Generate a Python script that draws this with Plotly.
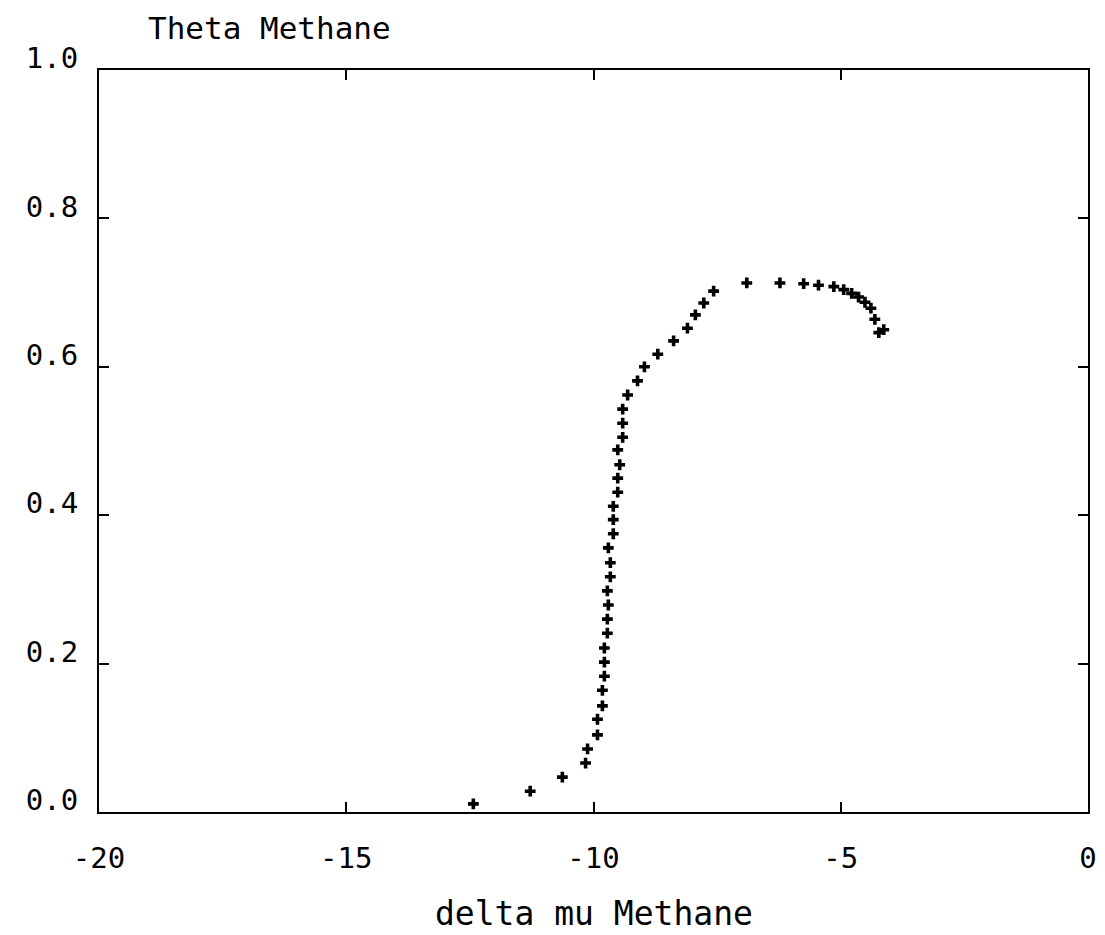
import plotly.graph_objects as go

delta_mu = [-12.43, -11.28, -10.63, -10.16, -10.12, -9.92, -9.92, -9.82, -9.82, -9.78,
            -9.78, -9.78, -9.72, -9.72, -9.70, -9.72, -9.66, -9.66, -9.70, -9.60,
            -9.60, -9.60, -9.51, -9.51, -9.47, -9.51, -9.41, -9.41, -9.41, -9.31,
            -9.11, -8.97, -8.70, -8.38, -8.10, -7.94, -7.77, -7.57, -6.90, -6.23,
            -5.75, -5.45, -5.14, -4.94, -4.78, -4.64, -4.51, -4.39, -4.31, -4.23,
            -4.13]
theta = [0.011, 0.028, 0.047, 0.066, 0.085, 0.104, 0.125, 0.143, 0.164, 0.183,
         0.202, 0.221, 0.241, 0.260, 0.279, 0.298, 0.317, 0.336, 0.356, 0.375,
         0.394, 0.412, 0.431, 0.450, 0.468, 0.488, 0.505, 0.524, 0.543, 0.562,
         0.581, 0.600, 0.617, 0.635, 0.652, 0.670, 0.686, 0.702, 0.713, 0.713,
         0.712, 0.710, 0.708, 0.704, 0.699, 0.694, 0.687, 0.679, 0.664, 0.646,
         0.650]

x_ticks = [-20, -15, -10, -5, 0]
x_tick_labels = ["-20", "-15", "-10", "-5", "0"]
y_ticks = [0.0, 0.2, 0.4, 0.6, 0.8, 1.0]
y_tick_labels = ["0.0", "0.2", "0.4", "0.6", "0.8", "1.0"]
x_title = "delta mu Methane"
y_title = "Theta Methane"

FONT = "DejaVu Sans Mono"

fig = go.Figure()
fig.add_trace(go.Scatter(
    x=delta_mu, y=theta, mode="markers",
    marker=dict(symbol="cross", size=9, color="black", line=dict(width=0)),
    showlegend=False,
))

W, H = 1105, 935
fig.update_layout(
    width=W, height=H,
    margin=dict(l=99, r=17, t=70, b=123, autoexpand=False),
    paper_bgcolor="white", plot_bgcolor="white",
    font=dict(family=FONT, color="black"),
    title=dict(text=y_title, x=148 / W, y=1 - 28 / H,
               xanchor="left", yanchor="middle", xref="container", yref="container",
               font=dict(family=FONT, size=31, color="black")),
)
fig.add_annotation(
    text=x_title, xref="paper", yref="paper", x=0.5, y=-101 / 742,
    xanchor="center", yanchor="middle", showarrow=False, borderpad=0,
    font=dict(family=FONT, size=33, color="black"),
)

fig.update_xaxes(
    range=[-20, 0], tickvals=x_ticks, ticktext=x_tick_labels,
    showgrid=False, zeroline=False, automargin=False,
    showline=True, linecolor="black", linewidth=2, mirror="ticks",
    ticks="inside", ticklen=10, tickwidth=2, tickcolor="black",
    tickfont=dict(family=FONT, size=29, color="black"),
    ticklabelstandoff=19,
)
fig.update_yaxes(
    range=[0, 1], tickvals=y_ticks, ticktext=y_tick_labels,
    showgrid=False, zeroline=False, automargin=False,
    showline=True, linecolor="black", linewidth=2, mirror="ticks",
    ticks="inside", ticklen=10, tickwidth=2, tickcolor="black",
    tickfont=dict(family=FONT, size=29, color="black"),
    ticklabelstandoff=13, ticklabelshift=-12,
)

fig.write_html("out.html", config={"displayModeBar": False},
               post_script="document.body.style.margin='0';document.body.style.overflow='hidden';")
